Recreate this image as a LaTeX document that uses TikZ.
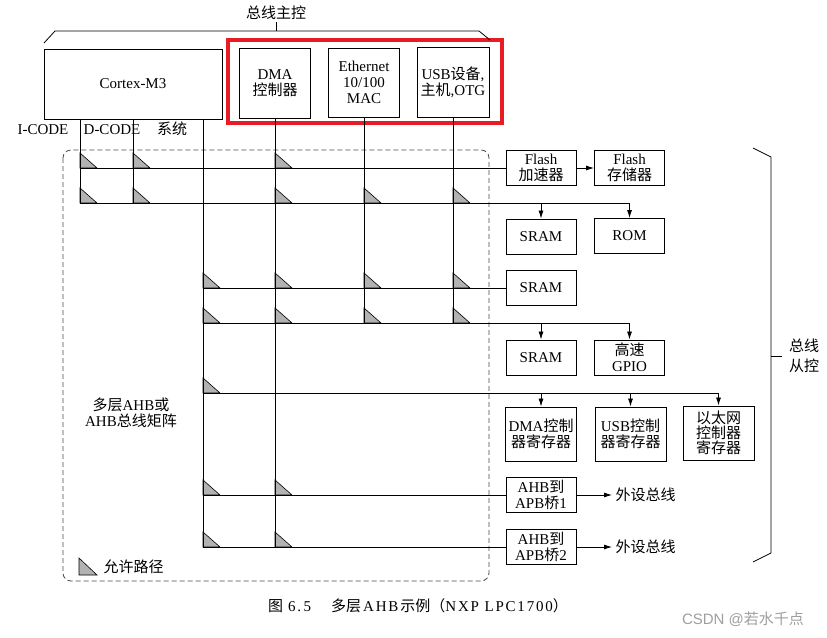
\documentclass[tikz,border=0pt]{standalone}
\usepackage{fontspec}
\setmainfont{Liberation Serif}
\newfontfamily\cjk{Noto Sans CJK SC}
\newfontfamily\wmfont{Liberation Sans}
\newfontfamily\capfont[LetterSpace=12]{Liberation Serif}
\newcommand\zh[1]{{\cjk #1}}
\usetikzlibrary{arrows.meta}
\definecolor{markred}{RGB}{232,28,36}
\tikzset{
  unit/.style={draw, line width=0.9pt, align=center, inner sep=0pt},
  slave/.style={unit, minimum width=70pt, minimum height=35pt},
  regbox/.style={unit, minimum width=71pt, minimum height=54pt},
  bus/.style={line width=0.8pt},
  tap/.style={bus, -{Latex[length=8pt,width=5pt]}},
  okpath/.style={fill=gray!60, draw, line width=0.6pt},
}
\begin{document}
\begin{tikzpicture}[x=1pt, y=-1pt, every node/.style={font=\fontsize{15}{16}\selectfont}]
\path[use as bounding box, fill=white] (0,0) rectangle (827,637);
% bus masters
\node[unit, minimum width=178pt, minimum height=70pt] (cm3) at (133,84) {Cortex-M3};
\node[unit, minimum width=71pt, minimum height=70pt] (dma) at (275,83) {DMA\\\zh{控制器}};
\node[unit, minimum width=71pt, minimum height=69pt] (eth) at (364,82.5) {Ethernet\\10/100\\MAC};
\node[unit, minimum width=72pt, minimum height=70pt] (usb) at (453,82) {USB\zh{设备},\\\zh{主机},OTG};
\draw[markred, line width=4pt] (228,40) rectangle (502,123);
\draw[line width=0.8pt] (44,43) -- (55,31) -- (479,31) -- (490,40);
\draw[line width=0.8pt] (276,31) -- (276,22);
\node (mlab) at (276,13) {\zh{总线主控}};
\node (icode) at (43,130) {I-CODE};
\node (dcode) at (112,130) {D-CODE};
\node (sys) at (172,129) {\zh{系统}};
% matrix frame
\draw[dashed, dash pattern=on 5pt off 3pt, rounded corners=8pt, line width=0.8pt, black!70] (63,150) rectangle (489,581);
\node[align=center] (mtx) at (131,413) {\zh{多层}AHB\zh{或}\\AHB\zh{总线矩阵}};
\filldraw[okpath] (79,575) -- (79,558) -- (97,575) -- cycle;
\node[anchor=west] (lgd) at (100,567) {\zh{允许路径}};
% bus slaves
\node[slave] (flacc) at (541,168) {Flash\\\zh{加速器}};
\node[slave] (flmem) at (629.5,168) {Flash\\\zh{存储器}};
\node[slave] (sram1) at (541,236.5) {SRAM};
\node[slave] (rom) at (629.5,236) {ROM};
\node[slave] (sram2) at (541,288) {SRAM};
\node[slave] (sram3) at (541,357.5) {SRAM};
\node[slave] (gpio) at (629.5,357.5) {\zh{高速}\\GPIO};
\node[regbox] (dmareg) at (541,434) {DMA\zh{控制}\\\zh{器寄存器}};
\node[regbox] (usbreg) at (630.5,434) {USB\zh{控制}\\\zh{器寄存器}};
\node[regbox, font=\fontsize{15}{15}\selectfont] (ethreg) at (718.5,433) {\zh{以太网}\\\zh{控制器}\\\zh{寄存器}};
\node[slave] (apb1) at (541,495) {AHB\zh{到}\\APB\zh{桥}1};
\node[slave] (apb2) at (541,547) {AHB\zh{到}\\APB\zh{桥}2};
\node[anchor=west] (pb1) at (612,495) {\zh{外设总线}};
\node[anchor=west] (pb2) at (612,547) {\zh{外设总线}};
% grid rows and columns
\coordinate (ci) at (80,0);
\coordinate (cd) at (133,0);
\coordinate (cs) at (203,0);
\coordinate (r2) at (0,203);
\coordinate (r4) at (0,323);
\coordinate (r5) at (0,393);
\foreach \x/\y in {80/168,133/168,275/168, 80/203,133/203,275/203,364/203,453/203,
  203/288,275/288,364/288,453/288, 203/323,275/323,364/323,453/323,
  203/393, 203/495,275/495, 203/547,275/547}
  \filldraw[okpath] (\x,\y) -- (\x,\y-15) -- (\x+17,\y) -- cycle;
\draw[bus] (cm3.south -| ci) -- (ci |- r2);
\draw[bus] (cm3.south -| cd) -- (cd |- r2);
\draw[bus] (cm3.south -| cs) -- (cs |- apb2);
\draw[bus] (dma.south) -- (dma |- apb2);
\draw[bus] (eth.south) -- (eth |- r4);
\draw[bus] (usb.south) -- (usb |- r4);
\draw[bus] (ci |- flacc) -- (flacc.west);
\draw[bus] (ci |- r2) -- (rom |- r2);
\draw[tap] (sram1 |- r2) -- (sram1.north);
\draw[tap] (rom |- r2) -- (rom.north);
\draw[bus] (cs |- sram2) -- (sram2.west);
\draw[bus] (cs |- r4) -- (gpio |- r4);
\draw[tap] (sram3 |- r4) -- (sram3.north);
\draw[tap] (gpio |- r4) -- (gpio.north);
\draw[bus] (cs |- r5) -- (ethreg |- r5);
\draw[tap] (dmareg |- r5) -- (dmareg.north);
\draw[tap] (usbreg |- r5) -- (usbreg.north);
\draw[tap] (ethreg |- r5) -- (ethreg.north);
\draw[bus] (cs |- apb1) -- (apb1.west);
\draw[bus] (cs |- apb2) -- (apb2.west);
\draw[tap] (flacc) -- (flmem);
\draw[tap] (apb1) -- (pb1);
\draw[tap] (apb2) -- (pb2);
% slave brace
\draw[line width=0.8pt] (753,148) -- (771,157) -- (771,553) -- (753,562);
\draw[line width=0.8pt] (771,356) -- (782,356);
\node[align=center, font=\fontsize{15}{20}\selectfont] (slab) at (804,356) {\zh{总线}\\\zh{从控}};
% caption
\node[font=\capfont\fontsize{15}{16}\selectfont] (cap) at (418,606) {\zh{图}\hspace{5pt}6.\,5\hspace{20pt}\zh{多层}\hspace{2pt}AHB\hspace{2pt}\zh{示例（}NXP LPC1700\zh{）}};
\node[text=gray!75, font=\wmfont\fontsize{15}{16}\selectfont] (wm) at (743,619) {CSDN @\zh{若水千点}};
\end{tikzpicture}
\end{document}
